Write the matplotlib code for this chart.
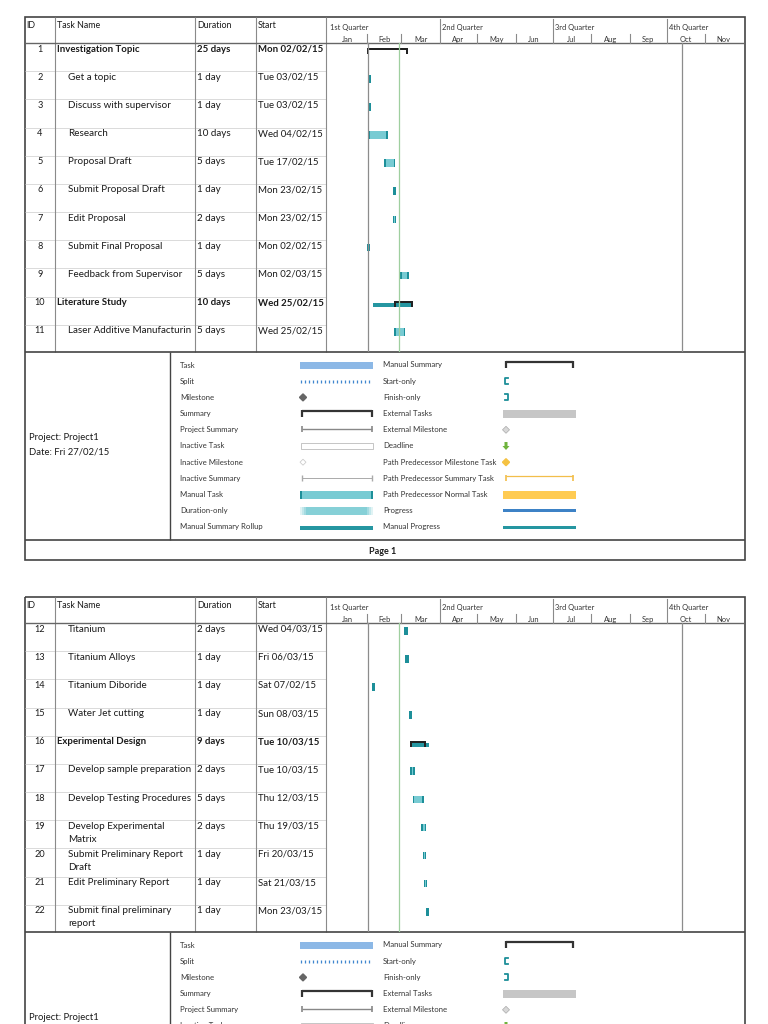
import datetime as dt
import matplotlib
matplotlib.use("Agg")
import matplotlib.pyplot as plt
import matplotlib.dates as mdates
from matplotlib.patches import Rectangle, Polygon

plt.rcParams['font.family'] = ['Lato', 'DejaVu Sans']

# ---- page 1 data ----
ids1 = [1, 2, 3, 4, 5, 6, 7, 8, 9, 10, 11]
names1 = ["Investigation Topic", "Get a topic", "Discuss with supervisor", "Research",
          "Proposal Draft", "Submit Proposal Draft", "Edit Proposal", "Submit Final Proposal",
          "Feedback from Supervisor", "Literature Study", "Laser Additive Manufacturin"]
durations1 = ["25 days", "1 day", "1 day", "10 days", "5 days", "1 day", "2 days", "1 day",
              "5 days", "10 days", "5 days"]
starts1 = ["Mon 02/02/15", "Tue 03/02/15", "Tue 03/02/15", "Wed 04/02/15", "Tue 17/02/15",
           "Mon 23/02/15", "Mon 23/02/15", "Mon 02/02/15", "Mon 02/03/15", "Wed 25/02/15",
           "Wed 25/02/15"]
summary1 = [True, False, False, False, False, False, False, False, False, True, False]
bar_from1 = ["2015-02-01", "2015-02-02", "2015-02-02", "2015-02-02", "2015-02-15", "2015-02-22",
             "2015-02-22", "2015-02-01", "2015-02-28", "2015-02-23", "2015-02-23"]
bar_to1 = ["2015-03-06", "2015-02-04", "2015-02-04", "2015-02-18", "2015-02-24", "2015-02-24",
           "2015-02-25", "2015-02-03", "2015-03-07", "2015-03-10", "2015-03-04"]
rollup_from1 = [None, None, None, None, None, None, None, None, None, "2015-02-06", None]
rollup_to1 = [None, None, None, None, None, None, None, None, None, "2015-03-10", None]

# ---- page 2 data ----
ids2 = [12, 13, 14, 15, 16, 17, 18, 19, 20, 21, 22]
names2 = ["Titanium", "Titanium Alloys", "Titanium Diboride", "Water Jet cutting",
          "Experimental Design", "Develop sample preparation", "Develop Testing Procedures",
          "Develop Experimental\nMatrix", "Submit Preliminary Report\nDraft",
          "Edit Preliminary Report", "Submit final preliminary\nreport"]
durations2 = ["2 days", "1 day", "1 day", "1 day", "9 days", "2 days", "5 days", "2 days",
              "1 day", "1 day", "1 day"]
starts2 = ["Wed 04/03/15", "Fri 06/03/15", "Sat 07/02/15", "Sun 08/03/15", "Tue 10/03/15",
           "Tue 10/03/15", "Thu 12/03/15", "Thu 19/03/15", "Fri 20/03/15", "Sat 21/03/15",
           "Mon 23/03/15"]
summary2 = [False, False, False, False, True, False, False, False, False, False, False]
bar_from2 = ["2015-03-03", "2015-03-04", "2015-02-05", "2015-03-07", "2015-03-08", "2015-03-08",
             "2015-03-10", "2015-03-17", "2015-03-18", "2015-03-19", "2015-03-21"]
bar_to2 = ["2015-03-06", "2015-03-07", "2015-02-07", "2015-03-09", "2015-03-21", "2015-03-12",
           "2015-03-19", "2015-03-21", "2015-03-21", "2015-03-22", "2015-03-23"]
rollup_from2 = [None, None, None, None, "2015-03-08", None, None, None, None, None, None]
rollup_to2 = [None, None, None, None, "2015-03-23", None, None, None, None, None, None]

# timescale
quarter_labels = ["1st Quarter", "2nd Quarter", "3rd Quarter", "4th Quarter"]
quarter_starts = ["2015-01-01", "2015-04-01", "2015-07-01", "2015-10-01"]
month_labels = ["Jan", "Feb", "Mar", "Apr", "May", "Jun", "Jul", "Aug", "Sep", "Oct", "Nov"]
project_start = "2015-02-02"
status_date = "2015-02-27"
finish_line = "2015-10-13"

legend_left = ["Task", "Split", "Milestone", "Summary", "Project Summary", "Inactive Task",
               "Inactive Milestone", "Inactive Summary", "Manual Task", "Duration-only",
               "Manual Summary Rollup"]
legend_right = ["Manual Summary", "Start-only", "Finish-only", "External Tasks",
                "External Milestone", "Deadline", "Path Predecessor Milestone Task",
                "Path Predecessor Summary Task", "Path Predecessor Normal Task", "Progress",
                "Manual Progress"]

TEAL_L = '#78cbd3'
TEAL_D = '#1d8f99'
ROLL = '#2596a1'
TXT = '#1a1a1a'
GRID = '#8a8a8a'

W, H = 768, 1024
fig = plt.figure(figsize=(7.68, 10.24), dpi=100)
pg = fig.add_axes([0, 0, 1, 1])
pg.set_xlim(0, W)
pg.set_ylim(H, 0)
pg.axis('off')

ROW = 28.18


def d(s):
    return mdates.date2num(dt.datetime.strptime(s, "%Y-%m-%d"))


def hline(y, x0, x1, c='#444', lw=1.0):
    pg.plot([x0, x1], [y, y], color=c, lw=lw, solid_capstyle='butt')


def vline(x, y0, y1, c='#444', lw=1.0):
    pg.plot([x, x], [y0, y1], color=c, lw=lw, solid_capstyle='butt')


def bracket(x0, x1, y, c, lw=1.5, up=2, down=4, tick=1.6):
    pg.plot([x0, x1], [y, y], color=c, lw=lw, solid_capstyle='butt')
    pg.plot([x0, x0], [y - up, y + down], color=c, lw=tick, solid_capstyle='butt')
    pg.plot([x1, x1], [y - up, y + down], color=c, lw=tick, solid_capstyle='butt')


def legend(oy):
    fs = 5.6
    y = [oy + 365 + k * 16.2 for k in range(11)]
    for k in range(11):
        pg.text(180, y[k], legend_left[k], fontsize=fs, color='#333', va='center')
        pg.text(383, y[k], legend_right[k], fontsize=fs, color='#333', va='center')
    # left column symbols
    pg.add_patch(Rectangle((300, y[0] - 3.5), 73, 7, color='#8cb8e6', lw=0))
    for xx in range(301, 372, 4):
        vline(xx, y[1] - 1.5, y[1] + 1.5, c='#3f86cf', lw=0.9)
    pg.add_patch(Polygon([(303, y[2] - 3.5), (306.5, y[2]), (303, y[2] + 3.5), (299.5, y[2])],
                         color='#666'))
    bracket(302, 372, y[3] - 2.5, '#333', lw=1.6, up=1, down=6)
    bracket(302, 372, y[4] - 0.5, '#888', lw=1.0, up=3, down=3, tick=1.2)
    pg.add_patch(Rectangle((300.5, y[5] - 3), 72, 6, facecolor='white', edgecolor='#bbbbbb', lw=0.6))
    pg.add_patch(Polygon([(303, y[6] - 3), (306, y[6]), (303, y[6] + 3), (300, y[6])],
                         facecolor='white', edgecolor='#cccccc', lw=0.6))
    bracket(302, 372, y[7] - 0.5, '#aaa', lw=0.7, up=2.5, down=3, tick=1.0)
    pg.add_patch(Rectangle((300, y[8] - 4), 73, 8, color=TEAL_L, lw=0))
    pg.add_patch(Rectangle((300, y[8] - 4), 1.8, 8, color=TEAL_D, lw=0))
    pg.add_patch(Rectangle((371.2, y[8] - 4), 1.8, 8, color=TEAL_D, lw=0))
    pg.add_patch(Rectangle((300, y[9] - 4), 73, 8, color='#86d0d7', lw=0))
    for j, a in enumerate([0.75, 0.5, 0.25]):
        pg.add_patch(Rectangle((300 + j * 2, y[9] - 4), 2, 8, color='white', alpha=a, lw=0))
        pg.add_patch(Rectangle((371 - j * 2, y[9] - 4), 2, 8, color='white', alpha=a, lw=0))
    pg.add_patch(Rectangle((300, y[10] - 1), 73, 4, color=ROLL, lw=0))
    # right column symbols
    bracket(506, 573, y[0] - 3, '#333', lw=1.6, up=1, down=6)
    pg.plot([508, 505, 505, 508], [y[1] - 3, y[1] - 3, y[1] + 3, y[1] + 3], color=TEAL_D, lw=1.3)
    pg.plot([505, 508, 508, 505], [y[2] - 3, y[2] - 3, y[2] + 3, y[2] + 3], color=TEAL_D, lw=1.3)
    pg.add_patch(Rectangle((503, y[3] - 4), 73, 8, color='#c6c6c6', lw=0))
    pg.add_patch(Polygon([(506, y[4] - 3.5), (509.5, y[4]), (506, y[4] + 3.5), (502.5, y[4])],
                         facecolor='#d8d8d8', edgecolor='#aaa', lw=0.5))
    pg.add_patch(Polygon([(504.5, y[5] - 4), (507.5, y[5] - 4), (507.5, y[5]), (509.5, y[5]),
                          (506, y[5] + 4), (502.5, y[5]), (504.5, y[5])], color='#6fb33c', lw=0))
    pg.add_patch(Polygon([(506, y[6] - 3.5), (509.5, y[6]), (506, y[6] + 3.5), (502.5, y[6])],
                         color='#f5c242'))
    bracket(506, 573, y[7] - 2, '#f2be4a', lw=0.9, up=1, down=5, tick=1.2)
    pg.add_patch(Rectangle((503, y[8] - 4), 73, 8, color='#ffcb52', lw=0))
    pg.add_patch(Rectangle((503, y[9] - 1.5), 73, 3, color='#3d82c6', lw=0))
    pg.add_patch(Rectangle((503, y[10] - 1.5), 73, 3, color=ROLL, lw=0))


def page(oy, ids, names, durs, starts, summ, bf, bt, rf, rt, pageno):
    top = oy + 17
    hdr = oy + 43
    bot = oy + 352
    # header text
    for x, s in [(26, "ID"), (57, "Task Name"), (197, "Duration"), (258, "Start")]:
        pg.text(x, oy + 26, s, fontsize=6.4, color=TXT, va='center')
    # rows
    for i in range(len(ids)):
        rt0 = hdr + i * ROW
        w = 'bold' if summ[i] else 'normal'
        fs = 6.9 if summ[i] else 7.1
        pg.text(40, rt0 + 6, str(ids[i]), fontsize=6.6, color=TXT, va='center', ha='center')
        xn = 57 if summ[i] else 68
        for j, line in enumerate(names[i].split("\n")):
            pg.text(xn, rt0 + 6 + j * 13.2, line, fontsize=fs, color=TXT, va='center',
                    fontweight=w)
        pg.text(197, rt0 + 6, durs[i], fontsize=fs, color=TXT, va='center', fontweight=w)
        pg.text(258, rt0 + 6, starts[i], fontsize=min(fs, 6.9), color=TXT, va='center',
                fontweight=w)
        if i > 0:
            hline(rt0, 25, 326, c='#d4d4d4', lw=0.6)
    # grid
    for x in [55, 195, 256, 326]:
        vline(x, top, bot, c=GRID, lw=0.8)
    hline(hdr, 25, 745, c='#666', lw=1.0)
    hline(bot, 25, 745, c='#444', lw=1.2)
    vline(170, bot, oy + 540, c='#444', lw=1.0)
    hline(oy + 540, 25, 745, c='#444', lw=1.2)
    pg.add_patch(Rectangle((25, top), 720, 543, fill=False, edgecolor='#444', lw=1.2))
    pg.text(383, oy + 551, "Page %d" % pageno, fontsize=6.5, fontweight='bold', color=TXT,
            va='center', ha='center')
    pg.text(29, oy + 438, "Project: Project1", fontsize=6.8, color=TXT, va='center')
    pg.text(29, oy + 452, "Date: Fri 27/02/15", fontsize=6.8, color=TXT, va='center')
    legend(oy)

    # gantt chart axes
    n = len(ids)
    ax = fig.add_axes([326 / W, 1 - bot / H, 419 / W, (bot - top) / H])
    ax.patch.set_visible(False)
    ax.axis('off')
    x0 = d("2015-01-01") - 1.85
    ax.set_xlim(x0, x0 + 419 / 1.24)
    ax.set_ylim(n, -(hdr - top) / ROW)

    def py(p):
        return (p - hdr) / ROW

    for q, qs in zip(quarter_labels, quarter_starts):
        if qs != "2015-01-01":
            ax.plot([d(qs), d(qs)], [py(oy + 19), 0], color=GRID, lw=0.8)
        ax.text(d(qs) + 1.5, py(oy + 28), q, fontsize=5.4, color='#333', va='center')
    for m, lab in enumerate(month_labels):
        a = mdates.date2num(dt.date(2015, m + 1, 1))
        b = mdates.date2num(dt.date(2015, m + 2, 1))
        if m % 3 != 0:
            ax.plot([a, a], [py(oy + 34), 0], color=GRID, lw=0.8)
        ax.text((a + b) / 2, py(oy + 40), lab, fontsize=5.4, color='#333', va='center',
                ha='center')
    ax.plot([d(project_start)] * 2, [0, n], color='#8c8c8c', lw=0.9)
    ax.plot([d(finish_line)] * 2, [0, n], color='#8c8c8c', lw=0.9)
    ax.plot([d(status_date)] * 2, [0, n], color='#9fcf9f', lw=0.9)

    bh = 0.27
    for i in range(n):
        a, b = d(bf[i]), d(bt[i])
        if summ[i]:
            if rf[i] is not None:
                ax.barh(i + 0.33, d(rt[i]) - d(rf[i]), left=d(rf[i]), height=0.14,
                        color=ROLL, lw=0)
            ax.barh(i + 0.225, b - a, left=a, height=0.07, color='#222', lw=0)
            ax.barh(i + 0.30, 1.6, left=a, height=0.22, color='#222', lw=0)
            ax.barh(i + 0.30, 1.6, left=b - 1.6, height=0.22, color='#222', lw=0)
        else:
            wdt = max(b - a, 2.4)
            c = min(1.3, wdt / 2)
            ax.barh(i + 0.28, wdt, left=a, height=bh, color=TEAL_L, lw=0)
            ax.barh(i + 0.28, c, left=a, height=bh, color=TEAL_D, lw=0)
            ax.barh(i + 0.28, c, left=a + wdt - c, height=bh, color=TEAL_D, lw=0)


page(0, ids1, names1, durations1, starts1, summary1, bar_from1, bar_to1,
     rollup_from1, rollup_to1, 1)
page(580, ids2, names2, durations2, starts2, summary2, bar_from2, bar_to2,
     rollup_from2, rollup_to2, 2)

fig.savefig("out.png", dpi=100)
